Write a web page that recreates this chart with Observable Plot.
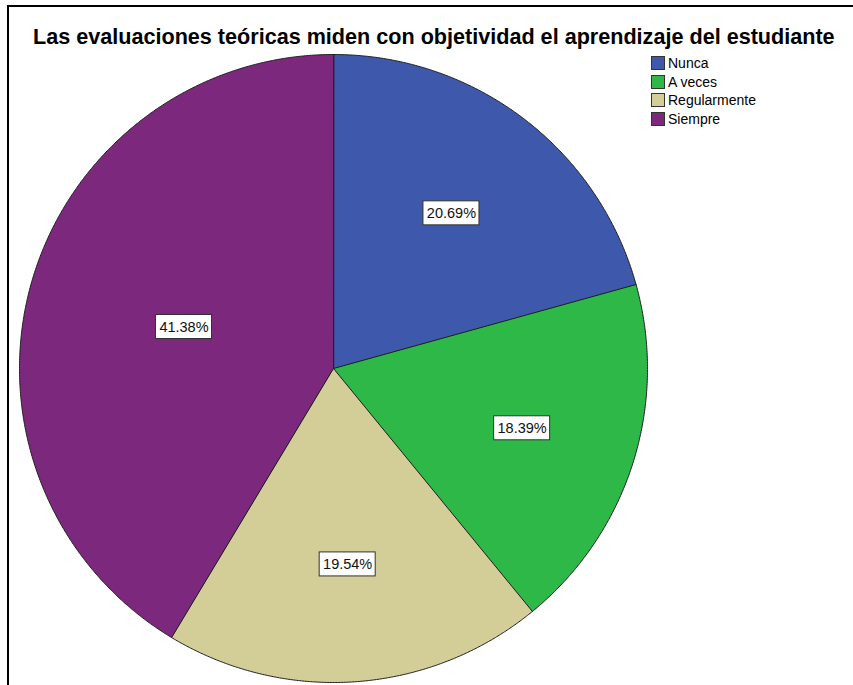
<!DOCTYPE html>
<html>
<head>
<meta charset="utf-8">
<script src="https://cdn.jsdelivr.net/npm/d3@7"></script>
<script src="https://cdn.jsdelivr.net/npm/@observablehq/plot@0.6"></script>
<style>
  html, body { margin: 0; padding: 0; background: #fff; overflow: hidden; }
  #wrap { position: relative; width: 853px; height: 685px; overflow: hidden; font-family: "Liberation Sans", Arial, sans-serif; }
  #frame { position: absolute; left: 7px; top: 5px; width: 1000px; height: 1000px; border-left: 2px solid #000; border-top: 2px solid #000; }
  #title { position: absolute; left: 33px; top: 26px; font-size: 21.6px; line-height: 21.6px; font-weight: bold; color: #000; white-space: nowrap; }
  #chart { position: absolute; left: 0; top: 0; }
  #legend { position: absolute; left: 651px; top: 54px; font-size: 14px; color: #000; }
  .row { display: flex; align-items: center; height: 18.6px; }
  .sw { width: 12px; height: 12px; border: 1px solid #333; margin-right: 3px; box-sizing: content-box; }
</style>
</head>
<body>
<div id="wrap">
  <div id="frame"></div>
  <div id="chart"></div>
  <div id="title">Las evaluaciones teóricas miden con objetividad el aprendizaje del estudiante</div>
  <div id="legend"></div>
</div>
<script>
const categories = ["Nunca", "A veces", "Regularmente", "Siempre"];
const percentages = [20.69, 18.39, 19.54, 41.38];
const colors = ["#3e58ac", "#2eb848", "#d3ce97", "#7c287d"];

// layout
const W = 853, H = 685, R = 314, cx = 333, cy = 368;

const arcs = d3.pie().sort(null).value(d => d)(percentages);

const slicePts = [];
const labelData = [];
arcs.forEach((a, i) => {
  const cat = categories[i];
  slicePts.push({cat, x: 0, y: 0});
  const n = Math.max(2, Math.ceil((a.endAngle - a.startAngle) / 0.005));
  for (let k = 0; k <= n; k++) {
    const t = a.startAngle + (a.endAngle - a.startAngle) * k / n;
    slicePts.push({cat, x: Math.sin(t), y: Math.cos(t)});
  }
  const half = (a.endAngle - a.startAngle) / 2;
  const mid = a.startAngle + half;
  const r = (2 / 3) * Math.sin(half) / half;
  labelData.push({cat, x: r * Math.sin(mid), y: r * Math.cos(mid), label: percentages[i].toFixed(2) + "%"});
});

const chart = Plot.plot({
  width: W,
  height: H,
  margin: 0,
  style: {background: "transparent"},
  x: {domain: [-cx / R, (W - cx) / R], range: [0, W], axis: null},
  y: {domain: [-(H - cy) / R, cy / R], range: [H, 0], axis: null},
  color: {domain: categories, range: colors},
  marks: [
    Plot.line(slicePts, {x: "x", y: "y", z: "cat", fill: "cat", stroke: "#1e1e1e", strokeWidth: 1, curve: "linear-closed"}),
    Plot.rect(labelData, {x1: "x", x2: "x", y1: "y", y2: "y", fill: "white", stroke: "#333", strokeWidth: 1,
      insetLeft: -28, insetRight: -28, insetTop: -12, insetBottom: -12}),
    Plot.text(labelData, {x: "x", y: "y", text: "label", fontSize: 14.5, fill: "#111",
      fontFamily: "Liberation Sans, Arial, sans-serif"})
  ]
});
document.getElementById("chart").appendChild(chart);

const legend = document.getElementById("legend");
categories.forEach((c, i) => {
  const row = document.createElement("div");
  row.className = "row";
  const sw = document.createElement("div");
  sw.className = "sw";
  sw.style.background = colors[i];
  const tx = document.createElement("span");
  tx.textContent = c;
  row.appendChild(sw);
  row.appendChild(tx);
  legend.appendChild(row);
});
</script>
</body>
</html>
